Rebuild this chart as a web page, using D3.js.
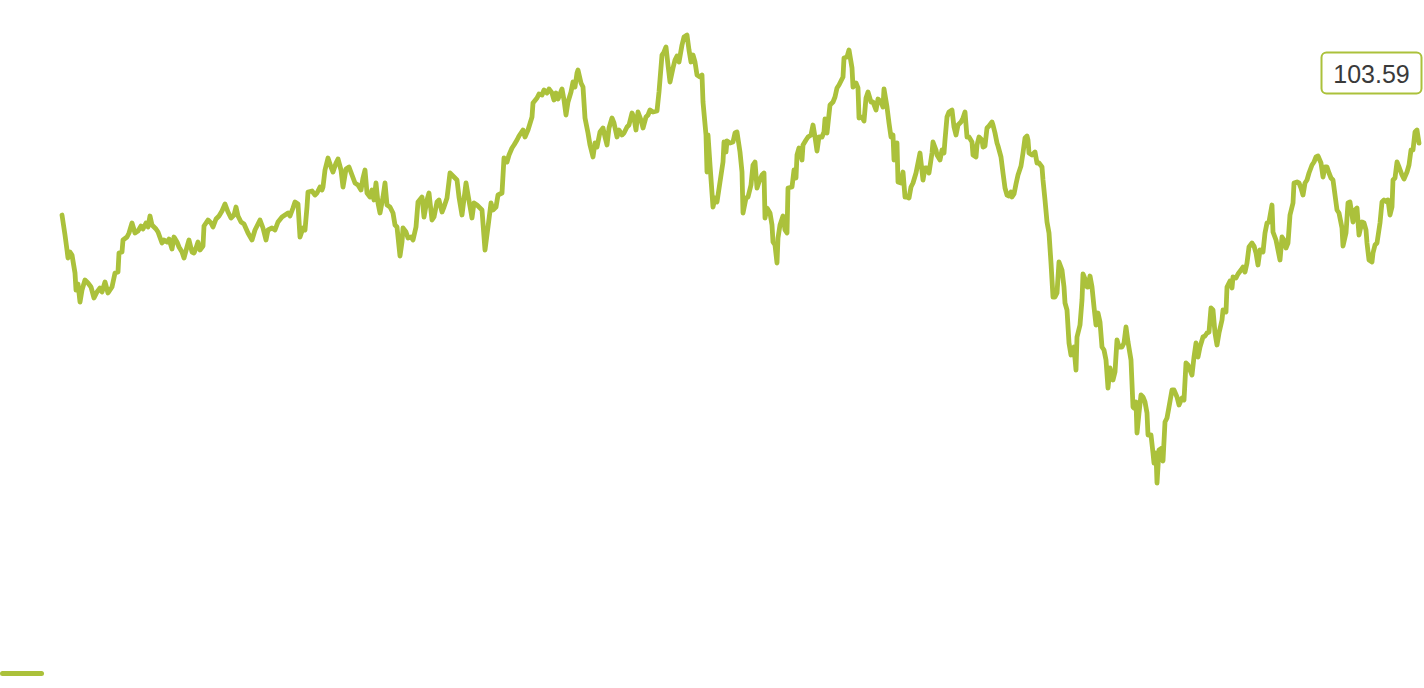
<!DOCTYPE html>
<html>
<head>
<meta charset="utf-8">
<script src="https://cdn.jsdelivr.net/npm/d3@7/dist/d3.min.js"></script>
<style>
  html, body { margin: 0; padding: 0; background: #ffffff; }
  svg { display: block; }
</style>
</head>
<body>
<svg id="chart" width="1424" height="688"></svg>
<script>
// Trading-day offsets
const days = [0,3,5,6,8,10,13,14,16,18,20,23,26,29,32,35,38,40,43,46,48,50,53,56,57,60,61,65,67,70,73,76,79,81,84,86,88,90,94,96,100,102,105,107,110,112,115,117,120,122,125,127,130,132,134,136,138,141,142,146,149,151,154,157,160,163,166,169,172,174,176,179,182,186,190,193,198,201,204,206,210,213,216,220,223,226,228,231,233,236,238,241,243,245,246,250,253,255,258,260,261,263,266,269,271,274,276,279,281,284,287,290,293,296,299,301,303,305,308,310,312,314,316,318,321,323,325,328,331,333,335,338,340,341,344,346,349,351,354,356,360,362,365,367,370,372,375,377,380,382,385,388,392,395,397,400,404,406,409,410,412,415,417,420,423,426,429,431,434,436,440,442,445,447,450,452,455,457,461,463,466,470,471,475,477,480,482,485,487,490,492,494,496,500,502,504,506,509,511,513,515,516,519,521,523,526,528,531,533,535,538,541,543,545,547,550,552,555,557,560,562,565,567,570,572,574,576,579,581,584,586,588,591,595,597,600,602,604,606,608,611,613,615,617,620,622,625,627,629,631,633,635,638,640,641,644,645,646,648,651,653,655,658,661,662,664,665,668,671,673,675,678,680,681,684,686,689,691,693,695,697,700,702,703,705,708,710,711,713,715,716,718,721,723,725,726,730,732,734,735,737,740,741,744,746,749,751,753,755,757,760,762,763,765,768,771,773,775,777,781,782,785,787,790,791,794,796,797,800,802,804,806,809,811,814,816,819,821,822,825,827,829,831,832,834,835,836,839,841,843,845,847,849,851,854,856,858,861,863,865,867,870,871,874,875,878,880,882,883,885,887,890,892,894,896,899,901,903,905,907,910,911,914,915,917,920,921,923,925,927,930,931,933,935,936,939,941,943,945,947,949,950,952,954,956,959,961,963,965,966,967,970,972,973,975,977,980,981,983,985,987,989,991,993,995,997,1000,1002,1003,1005,1007,1009,1011,1012,1014,1015,1018,1020,1021,1023,1025,1026,1028,1030,1032,1034,1036,1038,1040,1042,1044,1046,1048,1051,1053,1055,1057,1060,1062,1064,1066,1069,1071,1072,1074,1075,1077,1079,1081,1083,1085,1086,1089,1091,1092,1094,1095,1097,1100,1101,1103,1105,1107,1110,1112,1115,1117,1120,1122,1124,1126,1130,1132,1134,1136,1138,1141,1143,1145,1147,1149,1151,1153,1155,1157,1160,1161,1164,1165,1168,1170,1171,1174,1176,1179,1181,1183,1185,1187,1190,1192,1194,1196,1198,1201,1203,1205,1207,1210,1211,1214,1216,1218,1220,1222,1224,1226,1228,1231,1232,1235,1237,1239,1241,1243,1245,1247,1250,1252,1254,1256,1259,1261,1263,1265,1267,1269,1271,1273,1275,1277,1280,1281,1284,1286,1288,1290,1291,1293,1295,1297,1300,1302,1304,1305,1307,1310,1311,1313,1315,1318,1320,1322,1325,1326,1328,1330,1331,1333,1335,1337,1340,1342,1345,1347,1349,1351,1353,1355,1357];

// Index values
const values = [100.00,99.00,98.25,97.85,98.15,98.00,97.10,96.25,96.55,95.65,96.25,96.75,96.60,96.40,95.85,96.15,96.35,96.15,96.65,96.10,96.25,96.40,97.10,97.15,98.10,98.15,98.75,98.90,99.10,99.60,99.10,99.20,99.45,99.30,99.60,99.40,99.95,99.50,99.30,99.15,98.60,98.75,98.65,98.80,98.30,98.90,98.65,98.40,98.15,97.85,98.40,98.75,98.15,98.10,98.35,98.65,98.25,98.45,99.45,99.75,99.60,99.40,99.80,99.95,100.20,100.55,100.15,99.85,100.00,100.40,99.95,99.65,99.55,99.10,98.75,99.25,99.75,99.35,98.75,99.25,99.35,99.25,99.65,99.90,100.00,100.10,99.95,100.35,100.65,100.55,98.90,99.35,99.25,100.40,101.15,101.20,101.00,101.10,101.40,101.25,101.40,102.25,102.85,102.40,102.15,102.60,102.80,102.25,101.40,102.30,102.40,102.00,101.60,101.50,101.25,101.85,102.25,101.10,100.90,101.25,100.75,101.60,100.60,100.10,100.90,101.60,100.50,100.40,100.10,99.50,99.40,97.95,98.65,99.35,99.15,98.85,98.90,98.75,99.40,100.65,100.90,99.90,100.75,101.10,99.75,99.90,100.65,100.75,100.15,100.40,100.85,102.10,101.90,101.75,100.90,100.00,101.60,101.00,100.15,99.85,100.60,100.50,100.40,100.25,98.25,99.40,100.60,100.25,100.40,101.00,101.10,102.85,102.65,103.00,103.35,103.50,103.75,103.95,104.25,103.90,104.25,104.90,105.60,105.85,106.05,106.00,106.25,106.10,106.30,106.10,105.75,106.10,105.80,106.30,105.75,105.00,105.65,106.15,106.65,106.40,107.10,107.25,106.60,106.40,104.85,104.10,103.50,102.90,103.60,103.40,104.15,104.35,103.90,103.50,104.35,104.85,104.60,103.90,104.25,104.00,104.10,104.40,104.50,105.10,104.85,104.25,105.15,104.75,104.35,104.90,105.00,105.25,105.15,105.20,106.15,108.00,108.15,108.40,107.50,106.65,107.35,107.75,107.95,107.65,108.50,108.90,109.00,108.25,107.65,108.00,107.65,107.00,106.90,107.00,105.65,104.00,102.15,104.00,102.50,100.40,100.85,100.65,101.65,102.65,103.65,103.15,103.70,103.60,103.65,104.10,104.15,103.15,102.15,100.10,100.85,100.90,101.50,102.50,102.65,101.35,101.65,102.00,102.10,99.85,100.35,100.10,99.50,98.65,98.50,97.60,98.85,99.50,99.95,99.25,99.10,101.35,101.40,102.25,101.85,103.00,103.35,102.75,103.50,103.75,103.90,104.00,104.50,103.90,103.20,103.90,103.90,104.15,104.80,104.10,105.50,105.65,105.90,106.35,106.50,106.90,107.85,107.90,108.25,107.35,106.40,106.60,106.35,104.85,104.90,104.70,105.85,106.15,105.65,105.65,105.25,105.80,105.65,105.40,106.30,105.40,104.60,103.90,104.00,102.75,103.50,103.60,101.65,101.60,102.15,100.90,100.90,100.85,101.40,101.60,102.10,102.60,103.10,101.75,102.35,102.35,102.10,103.10,103.65,103.25,103.00,102.75,103.25,103.10,103.75,104.90,105.15,105.25,104.40,104.00,104.50,104.65,104.85,105.15,103.90,103.90,103.65,103.00,102.90,103.50,103.90,103.75,103.40,103.45,104.35,104.45,104.65,104.50,104.10,103.60,103.45,102.90,102.10,101.35,101.00,100.95,101.15,100.90,101.05,101.55,102.00,102.45,103.10,103.85,103.95,103.75,103.10,103.00,103.10,103.15,102.60,102.60,102.40,101.75,100.75,99.65,99.10,97.60,95.90,95.90,96.10,97.65,97.25,96.40,95.60,95.25,93.60,93.00,93.25,93.40,92.25,93.90,94.50,95.75,97.05,96.80,96.40,96.40,96.95,96.40,95.40,94.50,95.10,94.65,93.40,93.25,92.75,91.35,92.35,91.75,92.15,93.75,93.40,93.40,93.60,94.40,93.65,92.75,90.40,90.35,90.65,89.10,90.10,91.00,90.90,90.65,90.10,89.00,89.00,88.10,87.60,88.10,86.60,88.25,88.35,87.70,89.65,89.85,90.40,91.25,91.25,90.90,90.50,90.85,90.75,92.60,92.50,92.00,92.90,93.60,92.90,93.40,93.90,93.95,94.10,94.15,95.35,95.25,94.10,93.50,94.10,94.75,95.25,95.15,96.40,96.70,96.35,96.90,96.85,97.05,97.25,97.40,97.15,97.60,98.40,98.60,98.45,98.10,97.50,98.25,98.15,99.10,99.60,99.65,100.50,99.15,98.75,98.25,97.75,98.90,98.75,98.35,98.60,100.00,100.60,101.60,101.65,101.60,101.35,101.00,101.60,101.75,102.10,102.50,102.65,102.90,102.95,102.60,101.90,102.40,102.40,102.10,101.85,101.75,101.00,100.25,100.10,99.35,98.45,99.10,100.60,100.65,100.00,99.65,100.25,100.35,99.00,99.65,99.60,99.25,98.60,97.75,97.65,98.10,98.50,98.60,99.60,100.65,100.75,100.65,100.75,100.00,100.40,101.75,101.85,102.65,102.40,102.00,101.80,102.15,102.50,103.25,103.25,104.15,104.25,103.59];

const lastLabel = "103.59";
const color = "#abc13b";

const svg = d3.select("#chart");
const x = d3.scaleLinear().domain([0, 1357]).range([62, 1419]);
const y = d3.scaleLinear().domain([85, 110]).range([515, 15]);

const data = days.map((d, i) => ({ d, v: values[i] }));

svg.append("path")
  .datum(data)
  .attr("fill", "none")
  .attr("stroke", color)
  .attr("stroke-width", 4.8)
  .attr("stroke-linejoin", "round")
  .attr("stroke-linecap", "round")
  .attr("d", d3.line().x(p => x(p.d)).y(p => y(p.v)));

// Last-value label
const lbl = svg.append("g").attr("transform", "translate(1321.5,52.5)");
lbl.append("rect")
  .attr("width", 100).attr("height", 41)
  .attr("rx", 5).attr("ry", 5)
  .attr("fill", "#ffffff")
  .attr("stroke", color).attr("stroke-width", 2);
lbl.append("text")
  .attr("x", 50).attr("y", 30)
  .attr("text-anchor", "middle")
  .attr("font-family", "Liberation Sans, Arial, Helvetica, sans-serif")
  .attr("font-size", 25)
  .attr("fill", "#3a3a3a")
  .text(lastLabel);

// Legend symbol
svg.append("line")
  .attr("x1", 2.5).attr("x2", 41.5)
  .attr("y1", 673.5).attr("y2", 673.5)
  .attr("stroke", color)
  .attr("stroke-width", 5)
  .attr("stroke-linecap", "round");
</script>
</body>
</html>
